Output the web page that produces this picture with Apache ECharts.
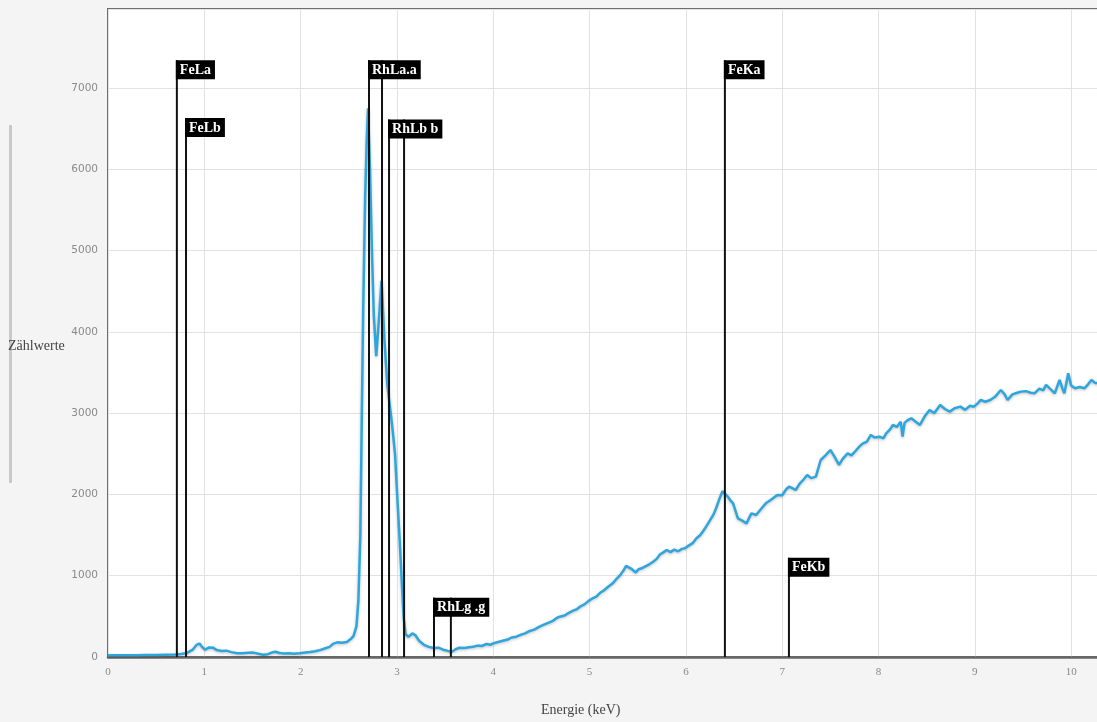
<!DOCTYPE html>
<html>
<head>
<meta charset="utf-8">
<title>Energie-Spektrum</title>
<script src="https://cdn.jsdelivr.net/npm/echarts@6/dist/echarts.min.js"></script>
<style>
  html, body { margin: 0; padding: 0; background: #f4f4f4; overflow: hidden; }
  #chart { width: 1097px; height: 722px; }
</style>
</head>
<body>
<div id="chart"></div>
<script>
// Spectrum: energy (keV) and counts
const energy = [
  0.00, 0.10, 0.20, 0.30, 0.40, 0.50, 0.60, 0.70, 0.76, 0.82, 0.88, 0.92, 0.95, 0.98, 1.01, 1.05, 1.09, 1.13, 1.18, 1.23,
  1.28, 1.34, 1.40, 1.46, 1.51, 1.56, 1.61, 1.66, 1.70, 1.74, 1.78, 1.83, 1.88, 1.93, 1.99, 2.05, 2.10, 2.15, 2.20, 2.25,
  2.30, 2.34, 2.38, 2.43, 2.48, 2.52, 2.55, 2.58, 2.60, 2.62, 2.635, 2.65, 2.67, 2.685, 2.70, 2.72, 2.74, 2.76, 2.785, 2.81,
  2.84, 2.87, 2.90, 2.92, 2.95, 2.98, 3.01, 3.03, 3.05, 3.07, 3.09, 3.12, 3.16, 3.19, 3.23, 3.28, 3.33, 3.38, 3.43, 3.48,
  3.53, 3.57, 3.61, 3.65, 3.70, 3.75, 3.79, 3.84, 3.88, 3.93, 3.97, 4.00, 4.05, 4.10, 4.15, 4.19, 4.24, 4.29, 4.33, 4.38,
  4.43, 4.48, 4.52, 4.57, 4.62, 4.66, 4.69, 4.74, 4.78, 4.83, 4.87, 4.90, 4.95, 4.99, 5.03, 5.07, 5.11, 5.15, 5.19, 5.24,
  5.28, 5.32, 5.35, 5.38, 5.41, 5.44, 5.48, 5.51, 5.55, 5.59, 5.62, 5.66, 5.70, 5.73, 5.77, 5.80, 5.84, 5.88, 5.92, 5.96,
  5.99, 6.03, 6.07, 6.11, 6.15, 6.18, 6.21, 6.25, 6.29, 6.32, 6.35, 6.38, 6.40, 6.43, 6.46, 6.49, 6.52, 6.54, 6.58, 6.63,
  6.68, 6.73, 6.78, 6.83, 6.88, 6.95, 7.00, 7.04, 7.07, 7.10, 7.14, 7.18, 7.22, 7.26, 7.30, 7.35, 7.40, 7.45, 7.50, 7.54,
  7.59, 7.63, 7.68, 7.72, 7.77, 7.81, 7.84, 7.88, 7.92, 7.96, 8.01, 8.05, 8.08, 8.12, 8.15, 8.19, 8.23, 8.25, 8.27, 8.30,
  8.34, 8.38, 8.43, 8.48, 8.53, 8.58, 8.64, 8.69, 8.74, 8.79, 8.85, 8.90, 8.95, 8.99, 9.03, 9.06, 9.11, 9.16, 9.21, 9.27,
  9.31, 9.34, 9.39, 9.44, 9.48, 9.53, 9.58, 9.62, 9.67, 9.71, 9.74, 9.78, 9.83, 9.88, 9.91, 9.93, 9.97, 10.00, 10.04, 10.09,
  10.14, 10.18, 10.21, 10.25, 10.31
];
const counts = [
  20, 22, 20, 22, 24, 25, 28, 30, 38, 50, 90, 150, 165, 120, 90, 118, 115, 85, 75, 78,
  60, 45, 45, 52, 54, 40, 28, 35, 55, 65, 50, 42, 45, 40, 45, 55, 62, 70, 85, 105,
  125, 165, 180, 175, 185, 220, 260, 380, 700, 1500, 2950, 4300, 5650, 6300, 6750, 6000, 5000, 4200, 3700, 4100,
  4630, 3900, 3350, 3150, 2850, 2500, 1830, 1400, 930, 480, 280, 250, 290, 270, 200, 150, 125, 110, 115, 90,
  75, 65, 95, 115, 110, 120, 127, 140, 135, 160, 150, 168, 185, 200, 215, 240, 250, 275, 290, 320,
  340, 373, 395, 420, 445, 480, 496, 510, 540, 570, 590, 619, 650, 690, 720, 742, 790, 820, 860, 906,
  960, 1010, 1060, 1120, 1100, 1080, 1040, 1080, 1095, 1120, 1140, 1172, 1210, 1260, 1290, 1316, 1290, 1320, 1300, 1330,
  1337, 1370, 1400, 1460, 1500, 1550, 1603, 1680, 1760, 1849, 1950, 2040, 2060, 1980, 1930, 1890, 1780, 1705, 1680, 1644,
  1767, 1746, 1820, 1890, 1930, 1993, 1990, 2060, 2095, 2080, 2054, 2130, 2180, 2239, 2200, 2218, 2423, 2480, 2546, 2470,
  2362, 2440, 2505, 2480, 2546, 2600, 2628, 2650, 2731, 2700, 2710, 2690, 2751, 2800, 2854, 2830, 2895, 2710, 2880, 2910,
  2936, 2900, 2854, 2960, 3038, 3000, 3100, 3050, 3018, 3060, 3079, 3040, 3090, 3079, 3120, 3161, 3140, 3161, 3200, 3284,
  3230, 3161, 3230, 3250, 3264, 3270, 3250, 3243, 3300, 3280, 3346, 3300, 3243, 3407, 3300, 3243, 3490, 3340, 3305, 3320,
  3305, 3360, 3407, 3370, 3366
];

// Element line markers: label, line energies (keV), label height (counts)
const markerNames = ['FeLa', 'FeLb', 'RhLa.a', 'RhLb b', 'RhLg .g', 'FeKa', 'FeKb'];
const markerLines = [[0.715], [0.81], [2.71, 2.845], [2.918, 3.074], [3.385, 3.56], [6.405], [7.07]];
const markerTops = [7340, 6630, 7340, 6610, 730, 7340, 1220];

const spectrum = energy.map((e, i) => [e, counts[i]]);
const markers = markerNames.map((n, i) => ({
  name: n,
  value: [markerLines[i][0], markerLines[i].length > 1 ? markerLines[i][1] : markerLines[i][0], markerTops[i]]
}));

const chart = echarts.init(document.getElementById('chart'), null, { renderer: 'canvas' });

chart.setOption({
  animation: false,
  backgroundColor: '#f4f4f4',
  grid: {
    left: 108, top: 9, width: 993, height: 648,
    outerBoundsMode: 'none', containLabel: false,
    show: true, backgroundColor: '#ffffff', borderColor: '#6e6e6e', borderWidth: 2
  },
  xAxis: {
    type: 'value', min: 0, max: 10.31, interval: 1,
    axisLine: { show: true, onZero: false, lineStyle: { color: '#666', width: 2.5 } },
    axisTick: { show: false },
    axisLabel: { showMaxLabel: false, color: '#888', fontFamily: 'Liberation Serif', fontSize: 11, margin: 10 },
    splitLine: { show: true, lineStyle: { color: '#e2e2e2', width: 1 } }
  },
  yAxis: {
    type: 'value', min: 0, max: 7970, interval: 1000,
    axisLine: { show: false },
    axisTick: { show: false },
    axisLabel: {
      showMaxLabel: false, color: '#8a8a8a', fontFamily: 'DejaVu Sans', fontSize: 10.5, margin: 10,
      formatter: function (v) { return String(v); }
    },
    splitLine: { show: true, lineStyle: { color: '#e2e2e2', width: 1 } }
  },
  graphic: [
    { type: 'rect', left: 9, top: 125, shape: { width: 3, height: 358 }, style: { fill: '#c9c9c9' }, silent: true },
    { type: 'text', left: 8, top: 339, style: { text: 'Zählwerte', fill: '#444', font: '14px "Liberation Serif"' } },
    { type: 'text', left: 541, top: 703, style: { text: 'Energie (keV)', fill: '#444', font: '14px "Liberation Serif"' } }
  ],
  series: [
    {
      type: 'line',
      data: spectrum,
      showSymbol: false,
      symbol: 'none',
      smooth: false,
      z: 2,
      lineStyle: {
        color: '#2ea6dd', width: 2.5,
        shadowColor: 'rgba(0,0,0,0.25)', shadowBlur: 3, shadowOffsetY: 1
      }
    },
    {
      type: 'custom',
      data: markers,
      encode: { x: [0, 1], y: 2 },
      z: 5,
      clip: false,
      renderItem: function (params, api) {
        const x1 = api.value(0), x2 = api.value(1), top = api.value(2);
        const name = markers[params.dataIndex].name;
        const p1b = api.coord([x1, 0]), p1t = api.coord([x1, top]);
        const children = [
          { type: 'line', shape: { x1: p1b[0], y1: p1b[1], x2: p1t[0], y2: p1t[1] },
            style: { stroke: '#111', lineWidth: 2 } }
        ];
        if (x2 !== x1) {
          const p2b = api.coord([x2, 0]), p2t = api.coord([x2, top]);
          children.push({ type: 'line', shape: { x1: p2b[0], y1: p2b[1], x2: p2t[0], y2: p2t[1] },
            style: { stroke: '#111', lineWidth: 2 } });
        }
        children.push({
          type: 'text',
          x: p1t[0] - 1, y: p1t[1],
          style: {
            text: name, fill: '#fff', font: 'bold 14px "Liberation Serif"',
            align: 'left', verticalAlign: 'top',
            backgroundColor: '#000', padding: [3, 4, 2, 4]
          }
        });
        return { type: 'group', children: children };
      }
    }
  ]
});
</script>
</body>
</html>
